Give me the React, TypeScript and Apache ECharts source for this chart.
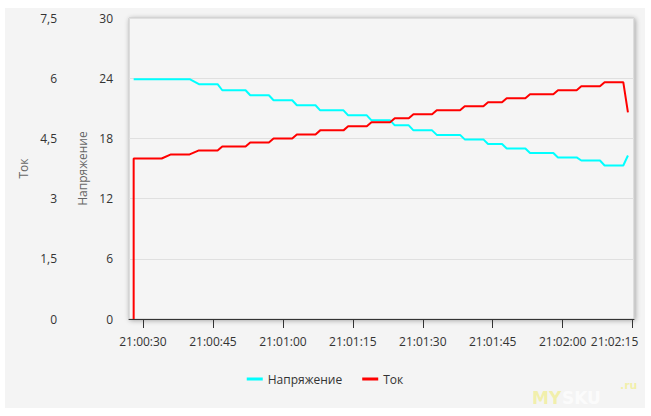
import React, { useEffect, useRef } from "react";
import * as echarts from "echarts";

const xMinTime = "21:00:27";
const xMaxTime = "21:02:15";
const xTickLabels = [
  "21:00:30",
  "21:00:45",
  "21:01:00",
  "21:01:15",
  "21:01:30",
  "21:01:45",
  "21:02:00",
  "21:02:15",
];

const voltageTimes = [
  "21:00:28", "21:00:40", "21:00:42", "21:00:46", "21:00:47", "21:00:52", "21:00:53",
  "21:00:57", "21:00:58", "21:01:02", "21:01:03", "21:01:07", "21:01:08", "21:01:13",
  "21:01:14", "21:01:18", "21:01:19", "21:01:23", "21:01:24", "21:01:27", "21:01:28",
  "21:01:32", "21:01:33", "21:01:38", "21:01:39", "21:01:43", "21:01:44", "21:01:47",
  "21:01:48", "21:01:52", "21:01:53", "21:01:58", "21:01:59", "21:02:03", "21:02:04",
  "21:02:08", "21:02:09", "21:02:13", "21:02:14",
];
const voltageValues = [
  23.9, 23.9, 23.4, 23.4, 22.8, 22.8, 22.3,
  22.3, 21.8, 21.8, 21.3, 21.3, 20.8, 20.8,
  20.3, 20.3, 19.8, 19.8, 19.3, 19.3, 18.8,
  18.8, 18.35, 18.35, 17.9, 17.9, 17.45, 17.45,
  17.0, 17.0, 16.55, 16.55, 16.1, 16.1, 15.8,
  15.8, 15.3, 15.3, 16.3,
];

const currentTimes = [
  "21:00:28", "21:00:28", "21:00:34", "21:00:36", "21:00:40", "21:00:42", "21:00:46",
  "21:00:47", "21:00:52", "21:00:53", "21:00:57", "21:00:58", "21:01:02", "21:01:03",
  "21:01:07", "21:01:08", "21:01:13", "21:01:14", "21:01:18", "21:01:19", "21:01:23",
  "21:01:24", "21:01:27", "21:01:28", "21:01:32", "21:01:33", "21:01:38", "21:01:39",
  "21:01:43", "21:01:44", "21:01:47", "21:01:48", "21:01:52", "21:01:53", "21:01:58",
  "21:01:59", "21:02:03", "21:02:04", "21:02:08", "21:02:09", "21:02:13", "21:02:14",
];
const currentValues = [
  0, 4.0, 4.0, 4.1, 4.1, 4.2, 4.2,
  4.3, 4.3, 4.4, 4.4, 4.5, 4.5, 4.6,
  4.6, 4.7, 4.7, 4.8, 4.8, 4.9, 4.9,
  5.0, 5.0, 5.1, 5.1, 5.2, 5.2, 5.3,
  5.3, 5.4, 5.4, 5.5, 5.5, 5.6, 5.6,
  5.7, 5.7, 5.8, 5.8, 5.9, 5.9, 5.15,
];

const seriesNames = ["Напряжение", "Ток"];

function toSec(t: string): number {
  const [h, m, s] = t.split(":").map(Number);
  return h * 3600 + m * 60 + s;
}
function fmtSec(v: number): string {
  const total = Math.round(v);
  const h = Math.floor(total / 3600);
  const m = Math.floor((total % 3600) / 60);
  const s = total % 60;
  const p = (n: number) => String(n).padStart(2, "0");
  return `${h}:${p(m)}:${p(s)}`;
}

const FONT = "Open Sans";

export default function App() {
  const ref = useRef<HTMLDivElement>(null);
  useEffect(() => {
    if (!ref.current) return;
    const chart = echarts.init(ref.current, undefined, { renderer: "svg" });
    const tickVals = xTickLabels.map(toSec);
    const lastTick = tickVals[tickVals.length - 1];
    const vData = voltageTimes.map((t, i) => [toSec(t), voltageValues[i]]);
    const cData = currentTimes.map((t, i) => [toSec(t), currentValues[i]]);
    chart.setOption({
      animation: false,
      backgroundColor: "#f4f4f4",
      textStyle: { fontFamily: FONT },
      grid: {
        left: 124,
        right: 11,
        top: 10,
        bottom: 89,
        show: true,
        backgroundColor: "#f5f5f5",
        borderColor: "#c4c4c4",
        borderWidth: 1,
        shadowColor: "rgba(0,0,0,0.35)",
        shadowBlur: 5,
        shadowOffsetX: 1,
        shadowOffsetY: 1,
      },
      legend: {
        data: seriesNames,
        left: "center",
        top: 360,
        icon: "rect",
        itemWidth: 16,
        itemHeight: 3,
        itemGap: 20,
        textStyle: { color: "#333", fontSize: 12, fontFamily: FONT },
      },
      xAxis: {
        type: "value",
        min: toSec(xMinTime),
        max: toSec(xMaxTime) + 0.3,
        axisLine: { lineStyle: { color: "#333", width: 1 } },
        axisTick: { length: 9, customValues: tickVals, lineStyle: { color: "#333" } },
        axisLabel: {
          customValues: tickVals,
          formatter: (v: number) =>
            Math.abs(v - lastTick) < 0.01 ? `{last|${fmtSec(v)}}` : fmtSec(v),
          rich: {
            last: { padding: [0, 36, 0, 0], color: "#333", fontSize: 12, fontFamily: FONT },
          },
          margin: 16,
          color: "#333",
          fontSize: 12,
          fontFamily: FONT,
          hideOverlap: false,
          showMaxLabel: true,
        },
        splitLine: { show: false },
      },
      yAxis: [
        {
          type: "value",
          name: seriesNames[0],
          nameLocation: "middle",
          nameGap: 33,
          nameTextStyle: { color: "#666", fontSize: 12, fontFamily: FONT },
          min: 0,
          max: 30,
          interval: 6,
          position: "left",
          axisLine: { show: false },
          axisTick: { show: false },
          axisLabel: { margin: 16, color: "#333", fontSize: 12, fontFamily: FONT },
          splitLine: { lineStyle: { color: "#e0e0e0" } },
        },
        {
          type: "value",
          name: seriesNames[1],
          nameLocation: "middle",
          nameGap: 35,
          nameTextStyle: { color: "#666", fontSize: 12, fontFamily: FONT },
          min: 0,
          max: 7.5,
          interval: 1.5,
          position: "left",
          offset: 56,
          axisLine: { show: false },
          axisTick: { show: false },
          axisLabel: {
            margin: 16,
            color: "#333",
            fontSize: 12,
            fontFamily: FONT,
            formatter: (v: number) => String(v).replace(".", ","),
          },
          splitLine: { show: false },
        },
      ],
      series: [
        {
          name: seriesNames[0],
          type: "line",
          yAxisIndex: 0,
          data: vData,
          showSymbol: false,
          symbol: "none",
          lineStyle: { color: "#00ffff", width: 2 },
          itemStyle: { color: "#00ffff" },
        },
        {
          name: seriesNames[1],
          type: "line",
          yAxisIndex: 1,
          data: cData,
          showSymbol: false,
          symbol: "none",
          lineStyle: { color: "#ff0000", width: 2 },
          itemStyle: { color: "#ff0000" },
        },
      ],
      graphic: [
        {
          type: "text",
          left: 527,
          top: 381,
          style: { text: "MY", font: "bold 17px 'DejaVu Sans'", fill: "rgba(240,236,110,0.55)" },
        },
        {
          type: "text",
          left: 557,
          top: 381,
          style: { text: "SKU", font: "bold 17px 'DejaVu Sans'", fill: "rgba(255,255,255,0.7)" },
        },
        {
          type: "text",
          left: 615,
          top: 372,
          style: { text: ".ru", font: "bold 11px 'DejaVu Sans'", fill: "rgba(240,236,110,0.55)" },
        },
      ],
    });
    return () => chart.dispose();
  }, []);
  return (
    <div style={{ position: "absolute", left: 0, top: 0, width: 651, height: 416, background: "#ffffff" }}>
      <div ref={ref} style={{ position: "absolute", left: 5, top: 8, width: 640, height: 400 }} />
    </div>
  );
}
